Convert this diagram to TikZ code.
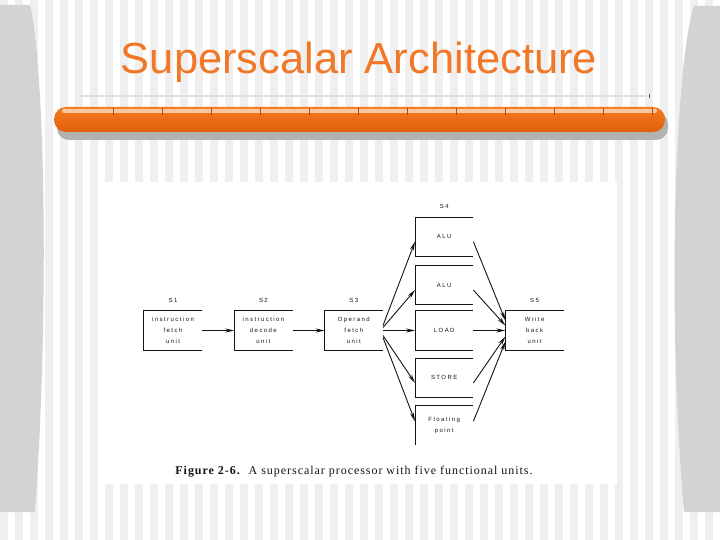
\documentclass[tikz,border=0pt]{standalone}
\usepackage{fontspec}
\usepackage{xcolor}
\usepackage{tikz}
\usetikzlibrary{
  arrows.meta,
  positioning
}
\newfontfamily\titlefont{Liberation Sans}
\newfontfamily\scanfont[LetterSpace=24]{Liberation Sans}
\newfontfamily\capfont[LetterSpace=8]{Liberation Serif}
\definecolor{slideorange}{RGB}{240,120,40}
\definecolor{barorange}{RGB}{246,122,30}
\definecolor{bardark}{RGB}{222,96,12}
\definecolor{barlight}{RGB}{250,200,160}
\definecolor{stripegray}{RGB}{239,239,239}
\definecolor{sidegray}{RGB}{211,211,211}
\definecolor{shadowgray}{RGB}{178,178,178}
\definecolor{scanink}{RGB}{20,20,20}
\tikzset{
  unit/.style={minimum width=58pt,minimum height=39pt,inner sep=0pt,
    align=center,text=scanink,font={\scanfont\fontsize{6}{11}\selectfont}},
  boxline/.style={draw=scanink,line width=0.9pt},
  stagelab/.style={text=scanink,inner sep=0pt,
    font={\scanfont\fontsize{6}{7}\selectfont}},
  stageflow/.style={-{Stealth[length=9pt,width=4pt]},line width=0.9pt,draw=scanink}
}

\begin{document}
\begin{tikzpicture}[x=1pt,y=-1pt,node distance=32pt]
  \useasboundingbox (0,0) rectangle (720,540);
  % slide background
  \fill[white] (0,0) rectangle (720,540);
  \foreach \i in {0,...,47}
    \fill[stripegray] (15*\i,0) rectangle ++(8,540);
  \fill[sidegray] (0,5) -- (30,5) .. controls (44,60) and (50,300) .. (35,512)
    -- (0,512) -- cycle;
  \fill[sidegray] (720,6) -- (694,6) .. controls (676,60) and (666,300) .. (684,512)
    -- (720,512) -- cycle;

  % title and bar
  \node[anchor=base,text=slideorange,inner sep=0pt,
    font={\titlefont\fontsize{43.5}{50}\selectfont}] (title) at (359,74)
    {Superscalar Architecture};
  \draw[gray!25,line width=1.5pt] (80,96) -- (647,96);
  \draw[gray!70!black,line width=0.8pt] (649,94) -- (649,98);
  \fill[shadowgray,rounded corners=12pt] (57,112) rectangle (668,140);
  \shade[rounded corners=12pt,top color=barorange,bottom color=bardark]
    (54,107) rectangle (665,132);
  \fill[barlight,rounded corners=2pt] (62,109) rectangle (657,113);
  \foreach \t in {113,162,...,652}
    \draw[bardark!80!black,line width=0.5pt] (\t,108) -- (\t,115);

  % scanned figure
  \fill[white] (102,182) rectangle (617,484);
  \node[unit] (s1) at (173,330.5) {instruction\\fetch\\unit};
  \node[unit,right=of s1] (s2) {instruction\\decode\\unit};
  \node[unit,right=of s2] (s3) {Operand\\fetch\\unit};
  \node[unit,right=of s3] (load) {LOAD};
  \node[unit,above=6pt of load] (alu2) {ALU};
  \node[unit,above=9pt of alu2] (alu1) {ALU};
  \node[unit,below=8pt of load] (store) {STORE};
  \node[unit,below=8pt of store] (fp) {Floating\\point};
  \node[unit,right=of load] (wb) {Write\\back\\unit};

  \foreach \n in {s1,s2,s3,alu1,alu2,load,store,wb}
    \draw[boxline] (\n.north east) -- (\n.north west) -- (\n.south west)
      -- (\n.south east);
  \draw[boxline] (fp.north east) -- (fp.north west) -- (fp.south west);

  \node[stagelab,above=8pt of s1] (l1) {S1};
  \node[stagelab,above=8pt of s2] (l2) {S2};
  \node[stagelab,above=8pt of s3] (l3) {S3};
  \node[stagelab,above=8pt of alu1] (l4) {S4};
  \node[stagelab,above=8pt of wb] (l5) {S5};

  \draw[stageflow] (s1) -- (s2);
  \draw[stageflow] (s2) -- (s3);
  \draw[stageflow] ([yshift=5pt]s3.east) -- ([yshift=-5pt]alu1.west);
  \draw[stageflow] ([yshift=3pt]s3.east) -- ([yshift=-5pt]alu2.west);
  \draw[stageflow] (s3.east) -- (load.west);
  \draw[stageflow] ([yshift=-5pt]s3.east) -- ([yshift=-5pt]store.west);
  \draw[stageflow] ([yshift=-7pt]s3.east) -- ([yshift=4pt]fp.west);
  \draw[stageflow] ([yshift=-5pt]alu1.east) -- ([yshift=10pt]wb.west);
  \draw[stageflow] ([yshift=-5pt]alu2.east) -- ([yshift=5pt]wb.west);
  \draw[stageflow] (load.east) -- (wb.west);
  \draw[stageflow] ([yshift=-5pt]store.east) -- ([yshift=-6pt]wb.west);
  \draw[stageflow] ([yshift=4pt]fp.east) -- ([yshift=-11pt]wb.west);

  \node[anchor=base,text=scanink,inner sep=0pt,
    font={\capfont\fontsize{12}{14}\selectfont}] (caption) at (354,474)
    {\textbf{Figure 2-6.}\ \ A superscalar processor with five functional units.};
\end{tikzpicture}
\end{document}
